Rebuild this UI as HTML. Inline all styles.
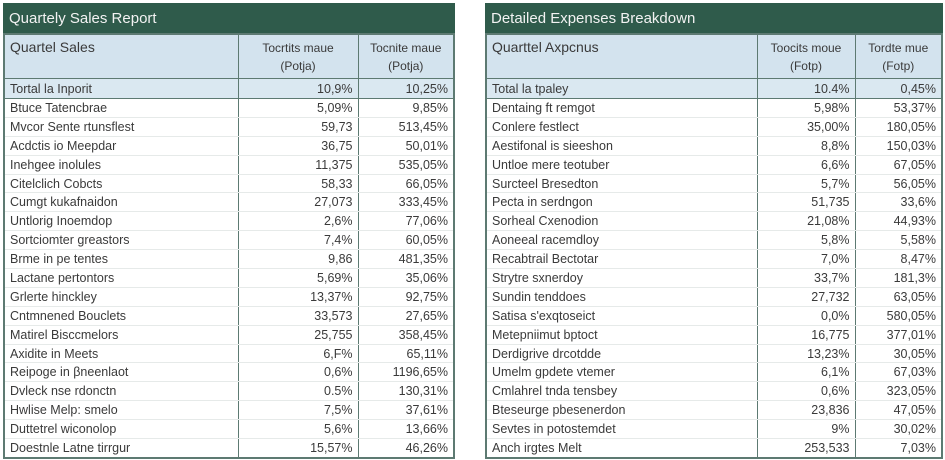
<!DOCTYPE html>
<html><head><meta charset="utf-8">
<style>
body{margin:0;width:945px;height:460px;background:#fff;font-family:"Liberation Sans",sans-serif;overflow:hidden;position:relative;}
.panel{position:absolute;top:3px;}
.title{height:30px;background:#2f5b4b;color:#f2f2f2;font-size:15px;line-height:32px;padding-left:6px;box-sizing:border-box;}
table{border-collapse:collapse;width:100%;table-layout:fixed;font-size:12.5px;color:#3a3a3a;border:2px solid #5d7a72;}
td,th{padding:0 5px;white-space:nowrap;overflow:hidden;border-left:1.5px solid #5d7a72;border-bottom:1px solid #e6eae9;}
th{background:#d3e3ee;font-weight:normal;height:39px;vertical-align:top;padding-top:4px;border-bottom:1.5px solid #5d7a72;}
th.n{text-align:left;font-size:14px;}
th.v{text-align:center;font-size:12px;line-height:18px;}
td{height:17.9px;}
td.v{text-align:right;}
tr.tot td{background:#dae8f1;height:19px;border-bottom:1.5px solid #5d7a72;}
</style></head><body>

<div class="panel" style="left:3px;width:452px;">
<div class="title">Quartely Sales Report</div>
<table>
<colgroup><col style="width:234px"><col style="width:120px"><col></colgroup>
<tr><th class="n">Quartel Sales</th><th class="v">Tocrtits maue<br>(Potja)</th><th class="v">Tocnite maue<br>(Potja)</th></tr>
<tr class="tot"><td>Tortal la Inporit</td><td class="v">10,9%</td><td class="v">10,25%</td></tr>
<tr><td>Btuce Tatencbrae</td><td class="v">5,09%</td><td class="v">9,85%</td></tr>
<tr><td>Mvcor Sente rtunsflest</td><td class="v">59,73</td><td class="v">513,45%</td></tr>
<tr><td>Acdctis io Meepdar</td><td class="v">36,75</td><td class="v">50,01%</td></tr>
<tr><td>Inehgee inolules</td><td class="v">11,375</td><td class="v">535,05%</td></tr>
<tr><td>Citelclich Cobcts</td><td class="v">58,33</td><td class="v">66,05%</td></tr>
<tr><td>Cumgt kukafnaidon</td><td class="v">27,073</td><td class="v">333,45%</td></tr>
<tr><td>Untlorig Inoemdop</td><td class="v">2,6%</td><td class="v">77,06%</td></tr>
<tr><td>Sortciomter greastors</td><td class="v">7,4%</td><td class="v">60,05%</td></tr>
<tr><td>Brme in pe tentes</td><td class="v">9,86</td><td class="v">481,35%</td></tr>
<tr><td>Lactane pertontors</td><td class="v">5,69%</td><td class="v">35,06%</td></tr>
<tr><td>Grlerte hinckley</td><td class="v">13,37%</td><td class="v">92,75%</td></tr>
<tr><td>Cntmnened Bouclets</td><td class="v">33,573</td><td class="v">27,65%</td></tr>
<tr><td>Matirel Bisccmelors</td><td class="v">25,755</td><td class="v">358,45%</td></tr>
<tr><td>Axidite in Meets</td><td class="v">6,F%</td><td class="v">65,11%</td></tr>
<tr><td>Reipoge in βneenlaot</td><td class="v">0,6%</td><td class="v">1196,65%</td></tr>
<tr><td>Dvleck nse rdonctn</td><td class="v">0.5%</td><td class="v">130,31%</td></tr>
<tr><td>Hwlise Melp: smelo</td><td class="v">7,5%</td><td class="v">37,61%</td></tr>
<tr><td>Duttetrel wiconolop</td><td class="v">5,6%</td><td class="v">13,66%</td></tr>
<tr><td>Doestnle Latne tirrgur</td><td class="v">15,57%</td><td class="v">46,26%</td></tr>
</table></div>

<div class="panel" style="left:485px;width:458px;">
<div class="title">Detailed Expenses Breakdown</div>
<table>
<colgroup><col style="width:271px"><col style="width:98px"><col></colgroup>
<tr><th class="n">Quarttel Axpcnus</th><th class="v">Toocits moue<br>(Fotp)</th><th class="v">Tordte mue<br>(Fotp)</th></tr>
<tr class="tot"><td>Total la tpaley</td><td class="v">10.4%</td><td class="v">0,45%</td></tr>
<tr><td>Dentaing ft remgot</td><td class="v">5,98%</td><td class="v">53,37%</td></tr>
<tr><td>Conlere festlect</td><td class="v">35,00%</td><td class="v">180,05%</td></tr>
<tr><td>Aestifonal is sieeshon</td><td class="v">8,8%</td><td class="v">150,03%</td></tr>
<tr><td>Untloe mere teotuber</td><td class="v">6,6%</td><td class="v">67,05%</td></tr>
<tr><td>Surcteel Bresedton</td><td class="v">5,7%</td><td class="v">56,05%</td></tr>
<tr><td>Pecta in serdngon</td><td class="v">51,735</td><td class="v">33,6%</td></tr>
<tr><td>Sorheal Cxenodion</td><td class="v">21,08%</td><td class="v">44,93%</td></tr>
<tr><td>Aoneeal racemdloy</td><td class="v">5,8%</td><td class="v">5,58%</td></tr>
<tr><td>Recabtrail Bectotar</td><td class="v">7,0%</td><td class="v">8,47%</td></tr>
<tr><td>Strytre sxnerdoy</td><td class="v">33,7%</td><td class="v">181,3%</td></tr>
<tr><td>Sundin tenddoes</td><td class="v">27,732</td><td class="v">63,05%</td></tr>
<tr><td>Satisa s'exqtoseict</td><td class="v">0,0%</td><td class="v">580,05%</td></tr>
<tr><td>Metepniimut bptoct</td><td class="v">16,775</td><td class="v">377,01%</td></tr>
<tr><td>Derdigrive drcotdde</td><td class="v">13,23%</td><td class="v">30,05%</td></tr>
<tr><td>Umelm gpdete vtemer</td><td class="v">6,1%</td><td class="v">67,03%</td></tr>
<tr><td>Cmlahrel tnda tensbey</td><td class="v">0,6%</td><td class="v">323,05%</td></tr>
<tr><td>Bteseurge pbesenerdon</td><td class="v">23,836</td><td class="v">47,05%</td></tr>
<tr><td>Sevtes in potostemdet</td><td class="v">9%</td><td class="v">30,02%</td></tr>
<tr><td>Anch irgtes Melt</td><td class="v">253,533</td><td class="v">7,03%</td></tr>
</table></div>
</body></html>
